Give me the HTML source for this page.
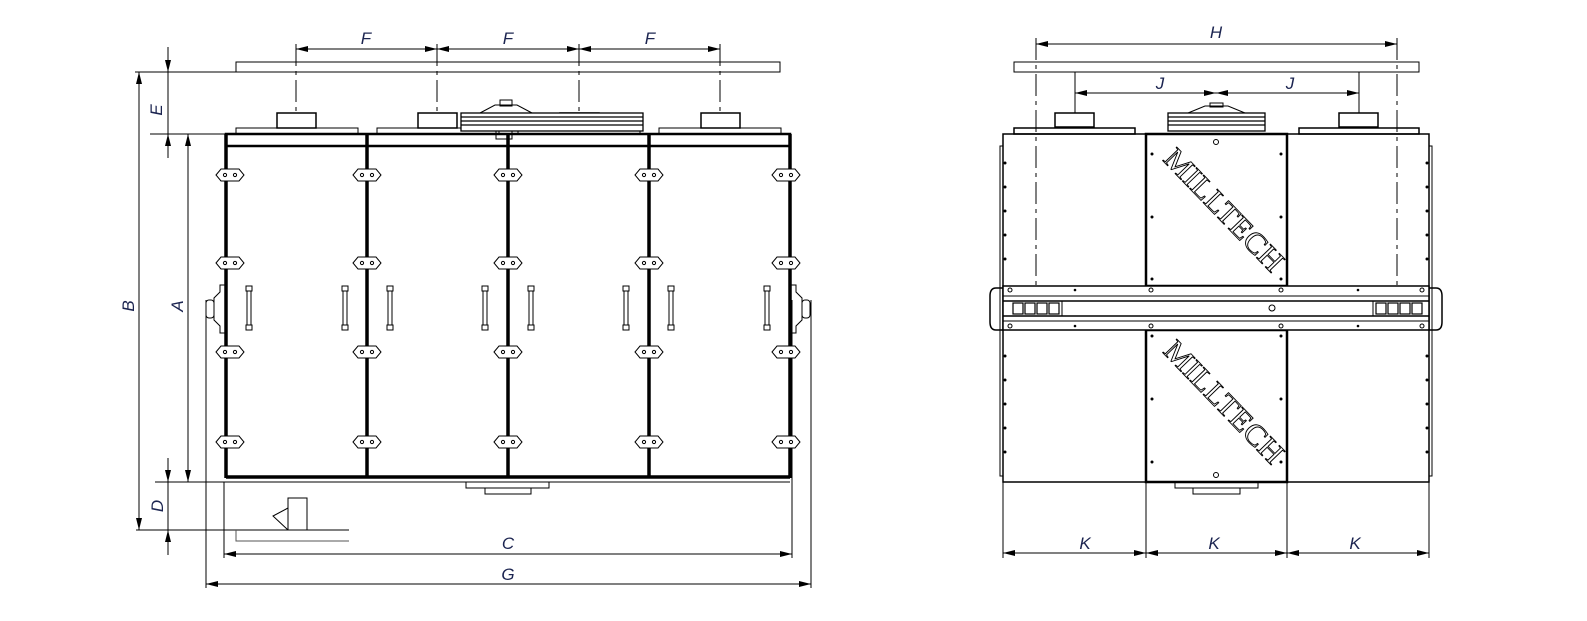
<!DOCTYPE html>
<html><head><meta charset="utf-8"><style>
html,body{margin:0;padding:0;background:#fff}
svg{display:block}
.l{font-family:"Liberation Sans",sans-serif;font-style:italic;font-size:17px;fill:#1b2450;text-anchor:middle}
.mt{font-family:"Liberation Serif",serif;font-size:30px;fill:#fff;stroke:#000;stroke-width:0.9}
</style></head><body>
<svg width="1587" height="621" viewBox="0 0 1587 621" xmlns="http://www.w3.org/2000/svg">
<defs>
<marker id="a" viewBox="0 0 12 6" refX="12" refY="3" markerWidth="12" markerHeight="6" orient="auto-start-reverse" markerUnits="userSpaceOnUse"><path d="M0,0L12,3L0,6z" fill="#000"/></marker>
<g id="hg"><path d="M-14,0 L-9,-6 H9 L14,0 L9,6 H-9Z" fill="#fff" stroke="#000" stroke-width="1"/><circle cx="-5" cy="0" r="1.6" fill="none" stroke="#000"/><circle cx="5" cy="0" r="1.6" fill="none" stroke="#000"/></g>
<g id="hd"><rect x="-2" y="0" width="4" height="44" fill="#fff" stroke="#000"/><rect x="-3" y="0" width="6" height="5" fill="#fff" stroke="#000"/><rect x="-3" y="39" width="6" height="5" fill="#fff" stroke="#000"/></g>
</defs>
<g fill="none" stroke="#000" stroke-width="1">
<!-- LEFT VIEW -->
<rect x="236" y="62" width="544" height="10"/>
<line x1="135" y1="72" x2="236" y2="72"/>
<line x1="139" y1="72" x2="139" y2="530" marker-start="url(#a)" marker-end="url(#a)"/>
<line x1="168" y1="47" x2="168" y2="72" marker-end="url(#a)"/>
<line x1="168" y1="134" x2="168" y2="158" marker-start="url(#a)"/>
<line x1="168" y1="72" x2="168" y2="134"/>
<line x1="150" y1="134" x2="226" y2="134"/>
<line x1="188" y1="134" x2="188" y2="482" marker-start="url(#a)" marker-end="url(#a)"/>
<line x1="168" y1="458" x2="168" y2="482" marker-end="url(#a)"/>
<line x1="168" y1="530" x2="168" y2="555" marker-start="url(#a)"/>
<line x1="168" y1="482" x2="168" y2="530"/>
<line x1="155" y1="482" x2="790" y2="482"/>
<line x1="136" y1="530" x2="349" y2="530"/>
<path d="M236,530 V541 H349" stroke="#555"/>
<rect x="288" y="498" width="19" height="32"/>
<path d="M288,508 L273,516 L288,530"/>
<!-- F dims -->
<line x1="296" y1="49" x2="437" y2="49" marker-start="url(#a)" marker-end="url(#a)"/>
<line x1="437" y1="49" x2="579" y2="49" marker-start="url(#a)" marker-end="url(#a)"/>
<line x1="579" y1="49" x2="720" y2="49" marker-start="url(#a)" marker-end="url(#a)"/>
<g stroke-dasharray="22,5,4,5">
<line x1="296" y1="44" x2="296" y2="113"/><line x1="437" y1="44" x2="437" y2="113"/><line x1="579" y1="44" x2="579" y2="113"/><line x1="720" y1="44" x2="720" y2="113"/>
</g>
<!-- outlets & caps -->
<rect x="277" y="113" width="39" height="15" stroke-width="1.5"/>
<rect x="418" y="113" width="39" height="15" stroke-width="1.5"/>
<rect x="560" y="113" width="39" height="15" stroke-width="1.5"/>
<rect x="701" y="113" width="39" height="15" stroke-width="1.5"/>
<rect x="236" y="128" width="122" height="6"/><rect x="377" y="128" width="122" height="6"/><rect x="518" y="128" width="122" height="6"/><rect x="659" y="128" width="122" height="6"/>
<g stroke-width="1.3"><rect x="461" y="113" width="182" height="18" fill="#fff"/><line x1="461" y1="117" x2="643" y2="117"/><line x1="461" y1="121" x2="643" y2="121"/><line x1="461" y1="125" x2="643" y2="125"/></g>
<path d="M480,113 L495,105 H517 L532,113"/><rect x="500" y="100" width="12" height="6"/>
<rect x="496" y="131" width="16" height="8"/>
<!-- cabinet -->
<rect x="226" y="134" width="564" height="12" stroke-width="2.5"/>
<line x1="226" y1="146" x2="790" y2="146" stroke-width="1"/>
<g stroke-width="3.5"><line x1="226" y1="134" x2="226" y2="478"/><line x1="367" y1="134" x2="367" y2="478"/><line x1="508" y1="134" x2="508" y2="478"/><line x1="649" y1="134" x2="649" y2="478"/><line x1="790" y1="134" x2="790" y2="478"/><line x1="226" y1="477" x2="790" y2="477"/></g>
<rect x="466" y="482" width="83" height="6"/><rect x="485" y="488" width="46" height="6"/>
<!-- side lugs -->
<path d="M226,285 H220 V292 L214,298 V320 L220,326 V333 H226"/><rect x="206" y="300" width="8" height="18" rx="3"/>
<path d="M790,285 H796 V292 L802,298 V320 L796,326 V333 H790"/><rect x="802" y="300" width="8" height="18" rx="3"/>
<!-- C, G -->
<line x1="224" y1="482" x2="224" y2="558"/><line x1="792" y1="300" x2="792" y2="558"/>
<line x1="224" y1="554" x2="792" y2="554" marker-start="url(#a)" marker-end="url(#a)"/>
<line x1="206" y1="300" x2="206" y2="588"/><line x1="811" y1="300" x2="811" y2="588"/>
<line x1="206" y1="584" x2="811" y2="584" marker-start="url(#a)" marker-end="url(#a)"/>

<!-- RIGHT VIEW -->
<rect x="1014" y="62" width="405" height="10"/>
<line x1="1036" y1="44" x2="1397" y2="44" marker-start="url(#a)" marker-end="url(#a)"/>
<g stroke-dasharray="22,5,4,5"><line x1="1036" y1="38" x2="1036" y2="300"/><line x1="1397" y1="38" x2="1397" y2="300"/></g>
<line x1="1075" y1="72" x2="1075" y2="113"/><line x1="1359" y1="72" x2="1359" y2="113"/>
<line x1="1075" y1="93" x2="1216" y2="93" marker-start="url(#a)" marker-end="url(#a)"/>
<line x1="1216" y1="93" x2="1359" y2="93" marker-start="url(#a)" marker-end="url(#a)"/>
<rect x="1055" y="113" width="39" height="14" stroke-width="1.5"/><rect x="1339" y="113" width="39" height="14" stroke-width="1.5"/>
<rect x="1014" y="128" width="121" height="6" stroke-width="1.5"/><rect x="1299" y="128" width="120" height="6" stroke-width="1.5"/>
<g stroke-width="1.3"><rect x="1168" y="113" width="97" height="18"/><line x1="1168" y1="117" x2="1265" y2="117"/><line x1="1168" y1="121" x2="1265" y2="121"/><line x1="1168" y1="125" x2="1265" y2="125"/></g>
<path d="M1188,113 L1205,106 H1228 L1245,113"/><rect x="1210" y="103" width="13" height="4"/>
<rect x="1003" y="134" width="426" height="348" stroke-width="1.5"/>
<rect x="1000" y="146" width="3" height="330"/><rect x="1429" y="146" width="3" height="330"/>
<rect x="1146" y="134" width="141" height="152" stroke-width="2.5"/>
<rect x="1146" y="330" width="141" height="152" stroke-width="2.5"/>
<rect x="1003" y="286" width="426" height="44" stroke-width="1.5" fill="#fff"/>
<line x1="1003" y1="296" x2="1429" y2="296"/><line x1="1003" y1="301" x2="1429" y2="301" stroke-width="1.5"/>
<line x1="1003" y1="316" x2="1429" y2="316" stroke-width="1.5"/><line x1="1003" y1="321" x2="1429" y2="321"/>
<line x1="1062" y1="301" x2="1062" y2="316"/><line x1="1373" y1="301" x2="1373" y2="316"/>
<g stroke-width="1.2">
<rect x="1013" y="303" width="10" height="11"/><rect x="1025" y="303" width="10" height="11"/><rect x="1037" y="303" width="10" height="11"/><rect x="1049" y="303" width="10" height="11"/>
<rect x="1376" y="303" width="10" height="11"/><rect x="1388" y="303" width="10" height="11"/><rect x="1400" y="303" width="10" height="11"/><rect x="1412" y="303" width="10" height="11"/>
</g>
<circle cx="1272" cy="308" r="3"/>
<path d="M1003,288 H996 Q990,288 990,296 V322 Q990,330 996,330 H1003" stroke-width="1.5"/>
<path d="M1429,288 H1436 Q1442,288 1442,296 V322 Q1442,330 1436,330 H1429" stroke-width="1.5"/>
<circle cx="1216" cy="142" r="2.5"/><circle cx="1216" cy="475" r="2.5"/>
<rect x="1175" y="482" width="83" height="6"/><rect x="1193" y="488" width="47" height="6"/>
<line x1="1003" y1="482" x2="1003" y2="558"/><line x1="1146" y1="482" x2="1146" y2="558"/><line x1="1287" y1="482" x2="1287" y2="558"/><line x1="1429" y1="482" x2="1429" y2="558"/>
<line x1="1003" y1="553" x2="1146" y2="553" marker-start="url(#a)" marker-end="url(#a)"/>
<line x1="1146" y1="553" x2="1287" y2="553" marker-start="url(#a)" marker-end="url(#a)"/>
<line x1="1287" y1="553" x2="1429" y2="553" marker-start="url(#a)" marker-end="url(#a)"/>
</g>
<!-- hinges & handles left -->
<g>
<use href="#hg" x="230" y="175"/><use href="#hg" x="230" y="263"/><use href="#hg" x="230" y="352"/><use href="#hg" x="230" y="442"/>
<use href="#hg" x="367" y="175"/><use href="#hg" x="367" y="263"/><use href="#hg" x="367" y="352"/><use href="#hg" x="367" y="442"/>
<use href="#hg" x="508" y="175"/><use href="#hg" x="508" y="263"/><use href="#hg" x="508" y="352"/><use href="#hg" x="508" y="442"/>
<use href="#hg" x="649" y="175"/><use href="#hg" x="649" y="263"/><use href="#hg" x="649" y="352"/><use href="#hg" x="649" y="442"/>
<use href="#hg" x="786" y="175"/><use href="#hg" x="786" y="263"/><use href="#hg" x="786" y="352"/><use href="#hg" x="786" y="442"/>
<use href="#hd" x="249" y="286"/><use href="#hd" x="345" y="286"/><use href="#hd" x="390" y="286"/><use href="#hd" x="485" y="286"/>
<use href="#hd" x="531" y="286"/><use href="#hd" x="626" y="286"/><use href="#hd" x="671" y="286"/><use href="#hd" x="767" y="286"/>
</g>
<!-- dots right -->
<g fill="#000">
<circle cx="1152" cy="154" r="1.5"/><circle cx="1281" cy="154" r="1.5"/><circle cx="1152" cy="217" r="1.5"/><circle cx="1281" cy="217" r="1.5"/><circle cx="1152" cy="279" r="1.5"/><circle cx="1281" cy="279" r="1.5"/>
<circle cx="1152" cy="336" r="1.5"/><circle cx="1281" cy="336" r="1.5"/><circle cx="1152" cy="399" r="1.5"/><circle cx="1281" cy="399" r="1.5"/><circle cx="1152" cy="462" r="1.5"/><circle cx="1281" cy="462" r="1.5"/>
<circle cx="1005" cy="163" r="1.5"/><circle cx="1005" cy="187" r="1.5"/><circle cx="1005" cy="211" r="1.5"/><circle cx="1005" cy="235" r="1.5"/><circle cx="1005" cy="259" r="1.5"/>
<circle cx="1427" cy="163" r="1.5"/><circle cx="1427" cy="187" r="1.5"/><circle cx="1427" cy="211" r="1.5"/><circle cx="1427" cy="235" r="1.5"/><circle cx="1427" cy="259" r="1.5"/>
<circle cx="1005" cy="356" r="1.5"/><circle cx="1005" cy="380" r="1.5"/><circle cx="1005" cy="404" r="1.5"/><circle cx="1005" cy="428" r="1.5"/><circle cx="1005" cy="452" r="1.5"/>
<circle cx="1427" cy="356" r="1.5"/><circle cx="1427" cy="380" r="1.5"/><circle cx="1427" cy="404" r="1.5"/><circle cx="1427" cy="428" r="1.5"/><circle cx="1427" cy="452" r="1.5"/>
<circle cx="1075" cy="290" r="1.3"/><circle cx="1358" cy="290" r="1.3"/><circle cx="1075" cy="326" r="1.3"/><circle cx="1358" cy="326" r="1.3"/>
</g>
<g fill="none" stroke="#000"><circle cx="1010" cy="290" r="2"/><circle cx="1151" cy="290" r="2"/><circle cx="1281" cy="290" r="2"/><circle cx="1422" cy="290" r="2"/>
<circle cx="1010" cy="326" r="2"/><circle cx="1151" cy="326" r="2"/><circle cx="1281" cy="326" r="2"/><circle cx="1422" cy="326" r="2"/></g>
<text class="mt" transform="translate(1162,160) rotate(46)" textLength="158" lengthAdjust="spacingAndGlyphs">MILLTECH</text>
<text class="mt" transform="translate(1162,352) rotate(46)" textLength="158" lengthAdjust="spacingAndGlyphs">MILLTECH</text>
<!-- labels -->
<text class="l" x="366" y="44">F</text><text class="l" x="508" y="44">F</text><text class="l" x="650" y="44">F</text>
<text class="l" x="508" y="549">C</text><text class="l" x="508" y="580">G</text>
<text class="l" transform="translate(134,306) rotate(-90)">B</text>
<text class="l" transform="translate(162,110) rotate(-90)">E</text>
<text class="l" transform="translate(183,306) rotate(-90)">A</text>
<text class="l" transform="translate(163,506) rotate(-90)">D</text>
<text class="l" x="1216" y="38">H</text>
<text class="l" x="1160" y="89">J</text><text class="l" x="1290" y="89">J</text>
<text class="l" x="1085" y="549">K</text><text class="l" x="1214" y="549">K</text><text class="l" x="1355" y="549">K</text>
</svg>
</body></html>
